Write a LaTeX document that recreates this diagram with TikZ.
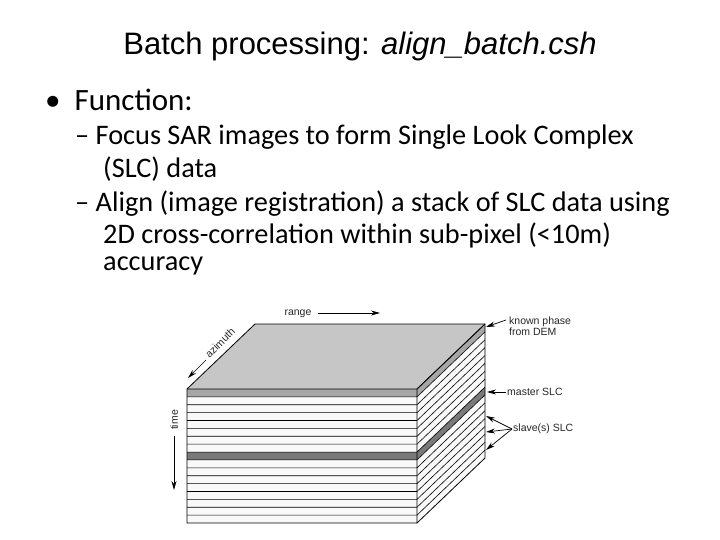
\documentclass[tikz,border=0pt]{standalone}
\usepackage{fontspec}
\usetikzlibrary{arrows.meta}
\setmainfont{Carlito}
\newfontfamily\arial{Liberation Sans}
\begin{document}
\begin{tikzpicture}[x=1pt,y=-1pt,
  lbl/.style={font=\arial\fontsize{10.5}{11}\selectfont, inner sep=1pt, text=black!85},
  arr/.style={-{Stealth[length=9pt,width=5pt]}, line width=0.7pt},
  bodytxt/.style={anchor=west, inner sep=0pt, font=\fontsize{28.3}{33}\selectfont}]
\useasboundingbox (0,0) rectangle (720,540);
\node (title) at (360,46) {\arial\fontsize{31}{36}\selectfont Batch processing: \textit{align\_batch.csh}};
\node[bodytxt, font=\fontsize{31}{36}\selectfont] (b1) at (45,100) {\textbullet\ \ Function:};
\node[bodytxt] (d1) at (75,137) {– Focus SAR images to form Single Look Complex};
\node[bodytxt] (d1b) at (103,169) {(SLC) data};
\node[bodytxt] (d2) at (75,204) {– Align (image registration) a stack of SLC data using};
\node[bodytxt] (d2b) at (103,235) {2D cross-correlation within sub-pixel (<10m)};
\node[bodytxt] (d2c) at (103,266) {accuracy};
% block
\def\xa{187}\def\xb{417}\def\dx{68}\def\dy{-65}
\def\yt{389}\def\yb{523}
\fill[gray!45] (\xa,\yt) -- (\xa+\dx,\yt+\dy) -- (\xb+\dx,\yt+\dy) -- (\xb,\yt) -- cycle;
\foreach \i in {0,...,16}{
  \pgfmathsetmacro{\ya}{\yt+\i*134/17}
  \pgfmathsetmacro{\yc}{\yt+(\i+1)*134/17}
  \ifnum\i=0 \def\col{gray!70}\else\ifnum\i=8 \def\col{gray!95!black}\else\def\col{gray!5}\fi\fi
  \fill[\col] (\xa,\ya) rectangle (\xb,\yc);
  \fill[\col] (\xb,\ya) -- (\xb+\dx,\ya+\dy) -- (\xb+\dx,\yc+\dy) -- (\xb,\yc) -- cycle;
  \draw[line width=0.6pt] (\xa,\ya) -- (\xb,\ya) -- (\xb+\dx,\ya+\dy);
}
\draw[line width=0.8pt] (\xa,\yt) -- (\xa+\dx,\yt+\dy) -- (\xb+\dx,\yt+\dy) -- (\xb+\dx,\yb+\dy) -- (\xb,\yb) -- (\xa,\yb) -- cycle;
\draw[line width=0.8pt] (\xb,\yt) -- (\xb,\yb) (\xb,\yt) -- (\xb+\dx,\yt+\dy);
% labels
\node[lbl] (range) at (298,314) {range};
\coordinate (rs) at (318,313);
\coordinate (re) at (380,313);
\draw[arr] (rs) -- (re);
\node[lbl, rotate=45] (az) at (220,343) {azimuth};
\coordinate (as) at (206,360);
\coordinate (ae) at (188,378);
\draw[arr] (as) -- (ae);
\node[lbl, rotate=90] (time) at (174,420) {time};
\coordinate (ts) at (174,436);
\coordinate (te) at (174,490);
\draw[arr] (ts) -- (te);
\node[lbl, anchor=west, align=left] (kp) at (508,326) {known phase\\from DEM};
\coordinate (kps) at (506,320);
\coordinate (kpe) at (486,327);
\draw[arr] (kps) -- (kpe);
\node[lbl, anchor=west] (ms) at (506,392) {master SLC};
\coordinate (mse) at (487,392);
\draw[arr] (ms.west) -- (mse);
\node[lbl, anchor=west] (sl) at (512,429) {slave(s) SLC};
\coordinate (s1) at (486,416);
\coordinate (s2) at (486,432);
\coordinate (s3) at (486,450);
\draw[arr] (sl.west) -- (s1);
\draw[arr] (sl.west) -- (s2);
\draw[arr] (sl.west) -- (s3);
\end{tikzpicture}
\end{document}
